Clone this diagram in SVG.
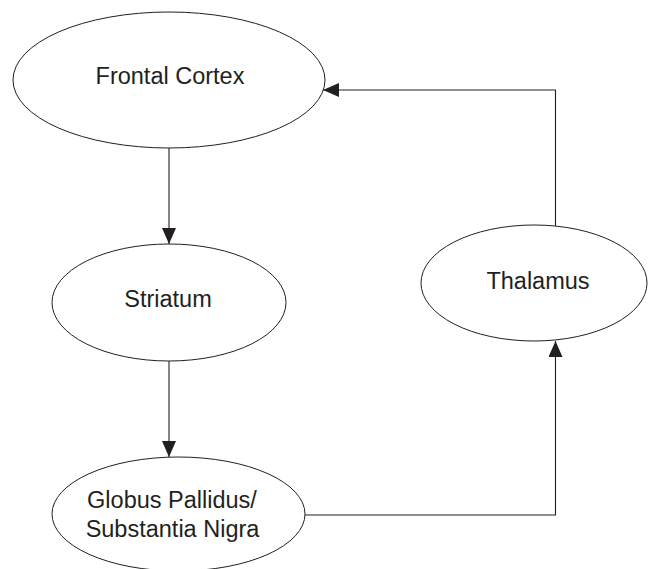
<svg xmlns="http://www.w3.org/2000/svg" width="650" height="569" viewBox="0 0 650 569">
<style>
.node ellipse{fill:#fff;stroke:#231f20;stroke-width:1}
.node text{font-family:"Liberation Sans",Arial,sans-serif;font-size:23.5px;fill:#231f20;text-anchor:middle}
.edge{fill:none;stroke:#231f20;stroke-width:1.1}
</style>
<defs>
<marker id="arr" viewBox="0 0 16 14" refX="16" refY="7" markerWidth="16" markerHeight="14" markerUnits="userSpaceOnUse" orient="auto">
<path d="M0,0 L16,7 L0,14 z" fill="#231f20"/>
</marker>
</defs>
<rect width="650" height="569" fill="#fff"/>
<g id="connectors">
<path class="edge" d="M169,148 V244" marker-end="url(#arr)"/>
<path class="edge" d="M169,361 V457" marker-end="url(#arr)"/>
<path class="edge" d="M305,515 H555.5 V341" marker-end="url(#arr)"/>
<path class="edge" d="M555.5,226 V90 H323" marker-end="url(#arr)"/>
</g>
<g id="frontal-cortex" class="node">
<ellipse cx="169" cy="80" rx="156" ry="68"/>
<text x="170" y="84">Frontal Cortex</text>
</g>
<g id="striatum" class="node">
<ellipse cx="169" cy="302.5" rx="117" ry="58.5"/>
<text x="168" y="307">Striatum</text>
</g>
<g id="thalamus" class="node">
<ellipse cx="534" cy="283" rx="113" ry="58"/>
<text x="538" y="289">Thalamus</text>
</g>
<g id="globus-pallidus" class="node">
<ellipse cx="178.5" cy="514" rx="126.5" ry="57"/>
<text x="172" y="508">Globus Pallidus/</text>
<text x="172.5" y="537">Substantia Nigra</text>
</g>
</svg>
